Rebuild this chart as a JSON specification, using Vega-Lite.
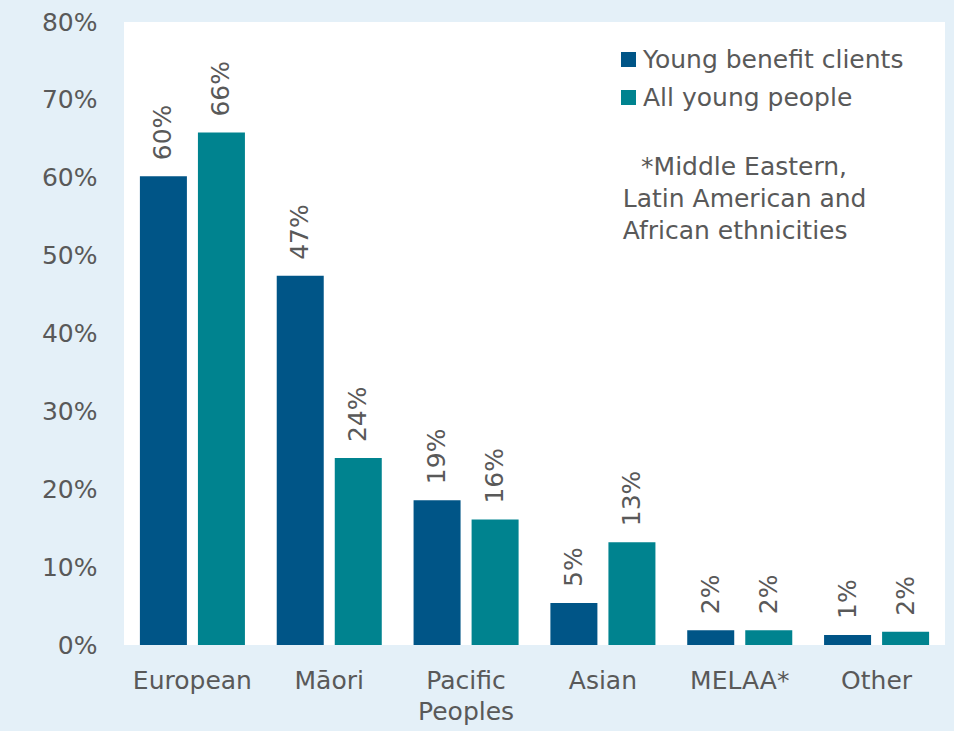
{
  "$schema": "https://vega.github.io/schema/vega-lite/v6.json",
  "width": 821,
  "height": 623,
  "autosize": {"type": "none"},
  "padding": {"left": 124, "top": 22, "right": 9, "bottom": 86},
  "background": "#e4f0f8",
  "config": {"view": {"fill": "white", "stroke": null}, "font": "DejaVu Sans"},
  "datasets": {
    "bars": [
      {"ethnicity": "European", "group": "Young benefit clients", "value": 0.602},
      {"ethnicity": "European", "group": "All young people", "value": 0.658},
      {"ethnicity": "Māori", "group": "Young benefit clients", "value": 0.474},
      {"ethnicity": "Māori", "group": "All young people", "value": 0.240},
      {"ethnicity": "Pacific Peoples", "group": "Young benefit clients", "value": 0.186},
      {"ethnicity": "Pacific Peoples", "group": "All young people", "value": 0.161},
      {"ethnicity": "Asian", "group": "Young benefit clients", "value": 0.054},
      {"ethnicity": "Asian", "group": "All young people", "value": 0.132},
      {"ethnicity": "MELAA*", "group": "Young benefit clients", "value": 0.019},
      {"ethnicity": "MELAA*", "group": "All young people", "value": 0.019},
      {"ethnicity": "Other", "group": "Young benefit clients", "value": 0.013},
      {"ethnicity": "Other", "group": "All young people", "value": 0.017}
    ],
    "note": [
      {"ethnicity": "MELAA*", "value": 0.629, "note": "\u2800*Middle Eastern,\nLatin American and\nAfrican ethnicities"}
    ]
  },
  "layer": [
    {
      "data": {"name": "bars"},
      "mark": {"type": "bar"},
      "encoding": {
        "x": {
          "field": "ethnicity", "type": "nominal",
          "sort": ["European", "Māori", "Pacific Peoples", "Asian", "MELAA*", "Other"],
          "scale": {"paddingInner": 0, "paddingOuter": 0},
          "axis": {
            "title": null, "domain": false, "ticks": false, "labelAngle": 0,
            "labelFontSize": 25, "labelColor": "#595959", "labelPadding": 23,
            "labelLineHeight": 31, "labelLimit": 300,
            "labelExpr": "datum.label == 'Pacific Peoples' ? ['Pacific', 'Peoples'] : datum.label"
          }
        },
        "xOffset": {
          "field": "group", "type": "nominal",
          "sort": ["Young benefit clients", "All young people"],
          "scale": {"paddingInner": 0.19, "paddingOuter": 0.274}
        },
        "y": {
          "field": "value", "type": "quantitative",
          "scale": {"domain": [0, 0.8]},
          "axis": {
            "title": null, "format": ".0%", "values": [0, 0.1, 0.2, 0.3, 0.4, 0.5, 0.6, 0.7, 0.8],
            "domain": false, "ticks": false, "grid": false,
            "labelFontSize": 25, "labelColor": "#595959", "labelPadding": 27
          }
        },
        "color": {
          "field": "group", "type": "nominal",
          "scale": {"domain": ["Young benefit clients", "All young people"], "range": ["#005587", "#00838F"]},
          "legend": {
            "title": null, "orient": "none", "legendX": 492, "legendY": 25,
            "labelFontSize": 25, "labelColor": "#595959", "labelLimit": 400,
            "symbolType": "square", "symbolSize": 225, "symbolStrokeWidth": 0,
            "rowPadding": 12, "labelOffset": 2
          }
        }
      }
    },
    {
      "data": {"name": "bars"},
      "mark": {"type": "text", "angle": -90, "align": "left", "baseline": "middle", "dx": 16, "fontSize": 25, "color": "#595959"},
      "encoding": {
        "x": {"field": "ethnicity", "type": "nominal", "sort": ["European", "Māori", "Pacific Peoples", "Asian", "MELAA*", "Other"]},
        "xOffset": {"field": "group", "type": "nominal", "sort": ["Young benefit clients", "All young people"]},
        "y": {"field": "value", "type": "quantitative"},
        "text": {"field": "value", "format": ".0%"}
      }
    },
    {
      "data": {"name": "note"},
      "mark": {"type": "text", "align": "left", "baseline": "top", "dx": -117, "fontSize": 25, "lineHeight": 32, "lineBreak": "\n", "color": "#595959"},
      "encoding": {
        "x": {"field": "ethnicity", "type": "nominal", "sort": ["European", "Māori", "Pacific Peoples", "Asian", "MELAA*", "Other"]},
        "y": {"field": "value", "type": "quantitative"},
        "text": {"field": "note"}
      }
    }
  ]
}
